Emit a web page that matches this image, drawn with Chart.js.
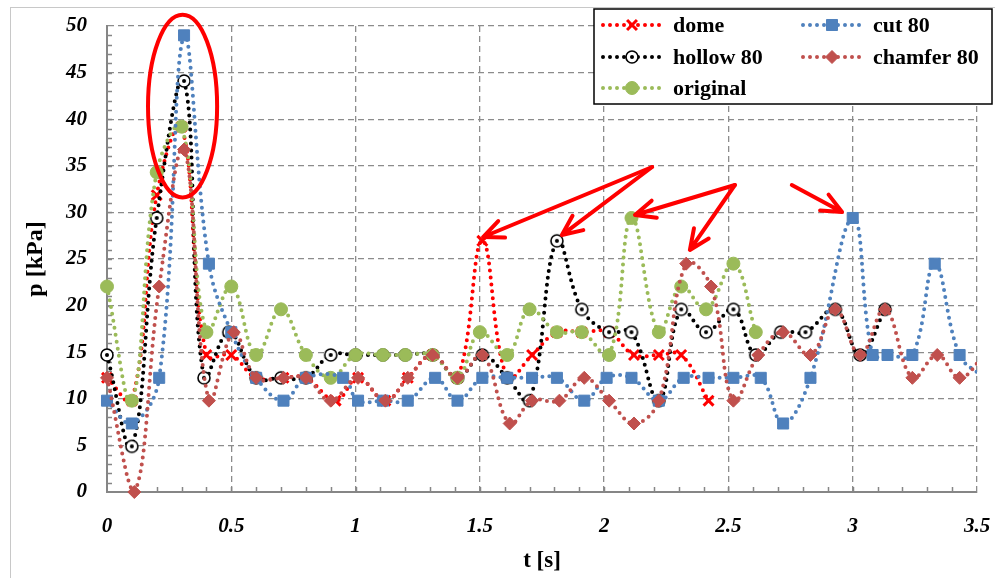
<!DOCTYPE html>
<html>
<head>
<meta charset="utf-8">
<script src="https://cdn.jsdelivr.net/npm/chart.js@4.4.0/dist/chart.umd.min.js"></script>
<style>
  html, body { margin: 0; padding: 0; background: #fff; }
</style>
</head>
<body>
<canvas id="chart" width="995" height="578"></canvas>
<script>
// time [s] and pressure [kPa] per nose shape
const domeT = [0, 0.1, 0.2, 0.3, 0.4, 0.5, 0.6, 0.71, 0.8, 0.92, 1.01, 1.12, 1.21, 1.31, 1.41, 1.51, 1.61, 1.71, 1.81, 1.91, 2.02, 2.12, 2.22, 2.31, 2.42];
const domeP = [12.25, 9.8, 31.85, 39.2, 14.7, 14.7, 12.25, 12.25, 12.25, 9.8, 12.25, 9.8, 12.25, 14.7, 12.25, 26.95, 12.25, 14.7, 17.15, 17.15, 17.15, 14.7, 14.7, 14.7, 9.8];

const hollowT = [0, 0.1, 0.2, 0.31, 0.39, 0.49, 0.6, 0.7, 0.8, 0.9, 1.0, 1.11, 1.2, 1.31, 1.41, 1.51, 1.61, 1.7, 1.81, 1.91, 2.02, 2.11, 2.22, 2.31, 2.41, 2.52, 2.61, 2.71, 2.81, 2.93, 3.03, 3.13];
const hollowP = [14.7, 4.9, 29.4, 44.1, 12.25, 17.15, 12.25, 12.25, 12.25, 14.7, 14.7, 14.7, 14.7, 14.7, 12.25, 14.7, 12.25, 9.8, 26.95, 19.6, 17.15, 17.15, 9.8, 19.6, 17.15, 19.6, 14.7, 17.15, 17.15, 19.6, 14.7, 19.6];

const originalT = [0, 0.1, 0.2, 0.3, 0.4, 0.5, 0.6, 0.7, 0.8, 0.9, 1.0, 1.11, 1.2, 1.31, 1.41, 1.5, 1.61, 1.7, 1.81, 1.91, 2.02, 2.11, 2.22, 2.31, 2.41, 2.52, 2.61];
const originalP = [22.05, 9.8, 34.3, 39.2, 17.15, 22.05, 14.7, 19.6, 14.7, 12.25, 14.7, 14.7, 14.7, 14.7, 12.25, 17.15, 14.7, 19.6, 17.15, 17.15, 14.7, 29.4, 17.15, 22.05, 19.6, 24.5, 17.15];

const cutT = [0, 0.1, 0.21, 0.31, 0.41, 0.5, 0.6, 0.71, 0.8, 0.95, 1.01, 1.11, 1.21, 1.32, 1.41, 1.51, 1.61, 1.71, 1.81, 1.92, 2.01, 2.11, 2.22, 2.32, 2.42, 2.52, 2.63, 2.72, 2.83, 3.0, 3.08, 3.14, 3.24, 3.33, 3.43, 3.53];
const cutP = [9.8, 7.35, 12.25, 49, 24.5, 17.15, 12.25, 9.8, 12.25, 12.25, 9.8, 9.8, 9.8, 12.25, 9.8, 12.25, 12.25, 12.25, 12.25, 9.8, 12.25, 12.25, 9.8, 12.25, 12.25, 12.25, 12.25, 7.35, 12.25, 29.4, 14.7, 14.7, 14.7, 24.5, 14.7, 12.25];

const chamferT = [0, 0.11, 0.21, 0.31, 0.41, 0.51, 0.6, 0.71, 0.8, 0.9, 1.01, 1.12, 1.21, 1.31, 1.41, 1.51, 1.62, 1.71, 1.82, 1.92, 2.02, 2.12, 2.22, 2.33, 2.43, 2.52, 2.62, 2.72, 2.83, 2.93, 3.03, 3.13, 3.24, 3.34, 3.43, 3.53];
const chamferP = [12.25, 0, 22.05, 36.75, 9.8, 17.15, 12.25, 12.25, 12.25, 9.8, 12.25, 9.8, 12.25, 14.7, 12.25, 14.7, 7.35, 9.8, 9.8, 12.25, 9.8, 7.35, 9.8, 24.5, 22.05, 9.8, 14.7, 17.15, 14.7, 19.6, 14.7, 19.6, 12.25, 14.7, 12.25, 14.7];

// hand-drawn red marks, in data units [t, p]
const ringCenter = [0.304, 41.4];
const ringRadius = [0.139, 9.8];
const arrows = [
  [[2.193, 34.87], [1.513, 27.36]],
  [[2.193, 34.87], [1.830, 27.57]],
  [[2.526, 32.94], [2.124, 29.72]],
  [[2.526, 32.94], [2.345, 25.97]],
  [[2.755, 32.94], [2.957, 30.04]]
];

const SERIF = "'Liberation Serif', 'DejaVu Serif', serif";

// open circle with a dot, used for "hollow 80"
const ring = document.createElement('canvas');
ring.width = ring.height = 16;
const rc = ring.getContext('2d');
rc.beginPath(); rc.arc(8, 8, 6, 0, 2 * Math.PI);
rc.fillStyle = '#fff'; rc.fill();
rc.lineWidth = 1.6; rc.strokeStyle = '#000'; rc.stroke();
rc.beginPath(); rc.arc(8, 8, 2, 0, 2 * Math.PI);
rc.fillStyle = '#000'; rc.fill();

function series(label, t, p, color, style, radius, order, extra) {
  return Object.assign({
    label: label,
    data: t.map((v, i) => ({ x: v, y: p[i] })),
    order: order,
    borderColor: color,
    backgroundColor: color,
    borderWidth: 4,
    borderDash: [0, 7],
    borderCapStyle: 'round',
    tension: 0.4,
    pointStyle: style,
    pointRadius: radius,
    pointBackgroundColor: color,
    pointBorderColor: color,
    pointBorderWidth: 1,
    clip: { left: 10, top: 30, right: 0, bottom: 12 }
  }, extra || {});
}

const datasets = [
  series('dome', domeT, domeP, '#FF0000', 'crossRot', 7, 5, { pointBorderWidth: 3 }),
  series('hollow 80', hollowT, hollowP, '#000000', ring, 7, 4),
  series('original', originalT, originalP, '#9BBB59', 'circle', 6.5, 3),
  series('cut 80', cutT, cutP, '#4F81BD', 'rect', 7.8, 2),
  series('chamfer 80', chamferT, chamferP, '#C0504D', 'rectRot', 6.5, 1)
];

const frame = {
  id: 'frame',
  beforeDraw(chart) {
    const ctx = chart.ctx;
    ctx.save();
    ctx.fillStyle = '#fff';
    ctx.fillRect(0, 0, chart.width, chart.height);
    ctx.strokeStyle = '#c8c8c8';
    ctx.lineWidth = 1;
    ctx.strokeRect(10.5, 7.5, chart.width, chart.height);
    ctx.restore();
  }
};

const minorTicks = {
  id: 'minorTicks',
  beforeDatasetsDraw(chart) {
    const { ctx, chartArea: a } = chart;
    const x = chart.scales.x, y = chart.scales.y;
    ctx.save();
    ctx.strokeStyle = '#868686';
    ctx.lineWidth = 1.5;
    ctx.beginPath();
    for (let v = 1; v < 50; v++) {
      const py = Math.round(y.getPixelForValue(v)) + 0.5;
      ctx.moveTo(a.left, py); ctx.lineTo(a.left + 5, py);
    }
    for (let i = 1; i < 35; i++) {
      const px = Math.round(x.getPixelForValue(i / 10)) + 0.5;
      ctx.moveTo(px, a.bottom); ctx.lineTo(px, a.bottom - 5);
    }
    ctx.stroke();
    ctx.restore();
  }
};

const redMarks = {
  id: 'redMarks',
  afterDatasetsDraw(chart) {
    const ctx = chart.ctx;
    const x = chart.scales.x, y = chart.scales.y;
    const px = v => x.getPixelForValue(v), py = v => y.getPixelForValue(v);
    ctx.save();
    ctx.strokeStyle = '#FF0000';
    ctx.lineWidth = 4;
    ctx.lineCap = 'round';
    ctx.lineJoin = 'round';
    const cx = px(ringCenter[0]), cy = py(ringCenter[1]);
    const rx = px(ringCenter[0] + ringRadius[0]) - cx;
    const ry = cy - py(ringCenter[1] + ringRadius[1]);
    ctx.beginPath();
    ctx.ellipse(cx, cy, rx, ry, 0, 0, 2 * Math.PI);
    ctx.stroke();
    arrows.forEach(([from, to]) => {
      const x1 = px(from[0]), y1 = py(from[1]), x2 = px(to[0]), y2 = py(to[1]);
      const ang = Math.atan2(y2 - y1, x2 - x1);
      const len = 22, spread = 0.42;
      ctx.beginPath();
      ctx.moveTo(x1, y1); ctx.lineTo(x2, y2);
      ctx.moveTo(x2 - len * Math.cos(ang - spread), y2 - len * Math.sin(ang - spread));
      ctx.lineTo(x2, y2);
      ctx.lineTo(x2 - len * Math.cos(ang + spread), y2 - len * Math.sin(ang + spread));
      ctx.stroke();
    });
    ctx.restore();
  }
};

// two-column legend box in the top right, like the original sheet
const boxLegend = {
  id: 'boxLegend',
  afterDraw(chart) {
    const ctx = chart.ctx;
    const slots = [[603, 25], [603, 57], [603, 88], [803, 25], [803, 57]];
    ctx.save();
    ctx.fillStyle = '#fff';
    ctx.fillRect(594, 9, 398, 95);
    ctx.strokeStyle = '#000';
    ctx.lineWidth = 1.5;
    ctx.strokeRect(594, 9, 398, 95);
    chart.data.datasets.forEach((ds, i) => {
      const [lx, ly] = slots[i];
      ctx.save();
      ctx.strokeStyle = ds.borderColor;
      ctx.lineWidth = 4;
      ctx.lineCap = 'round';
      ctx.setLineDash([0, 7]);
      ctx.beginPath();
      ctx.moveTo(lx, ly); ctx.lineTo(lx + 58, ly);
      ctx.stroke();
      ctx.restore();
      ctx.fillStyle = ds.pointBackgroundColor;
      ctx.strokeStyle = ds.pointBorderColor;
      ctx.lineWidth = ds.pointBorderWidth;
      Chart.helpers.drawPoint(ctx, {
        pointStyle: ds.pointStyle, radius: ds.pointRadius, borderWidth: ds.pointBorderWidth, rotation: 0
      }, lx + 29, ly);
      ctx.fillStyle = '#000';
      ctx.font = 'bold 22px ' + SERIF;
      ctx.textBaseline = 'middle';
      ctx.fillText(ds.label, lx + 70, ly + 1);
    });
    ctx.restore();
  }
};

const tickFont = { family: SERIF, size: 21, weight: 'bold', style: 'italic' };
// invisible tick marks push the labels out without widening the layout padding
const hiddenTicks = { color: '#8c8c8c', lineWidth: 1.3, drawTicks: true, tickColor: 'rgba(0,0,0,0)' };

new Chart(document.getElementById('chart'), {
  type: 'line',
  data: { datasets: datasets },
  plugins: [frame, minorTicks, redMarks, boxLegend],
  options: {
    responsive: false,
    animation: false,
    events: [],
    layout: { padding: { left: 0, right: 18, top: 26, bottom: 0 } },
    plugins: {
      legend: { display: false },
      tooltip: { enabled: false }
    },
    scales: {
      x: {
        type: 'linear',
        min: 0,
        max: 3.5,
        ticks: { stepSize: 0.5, padding: 4, color: '#000', font: tickFont, callback: v => String(v) },
        grid: Object.assign({ tickLength: 18 }, hiddenTicks),
        border: { color: '#868686', width: 2, dash: [6, 4] },
        title: {
          display: true, text: 't [s]', color: '#000', padding: { top: 0, bottom: 3 },
          font: { family: SERIF, size: 23, weight: 'bold' }
        },
        afterFit: s => { s.height = 86; }
      },
      y: {
        type: 'linear',
        min: 0,
        max: 50,
        ticks: { stepSize: 5, padding: 4, color: '#000', font: tickFont },
        grid: Object.assign({ tickLength: 16 }, hiddenTicks),
        border: { color: '#868686', width: 2, dash: [6, 4] },
        title: {
          display: true, text: 'p [kPa]', color: '#000', padding: { top: 21, bottom: 0 },
          font: { family: SERIF, size: 24, weight: 'bold' }
        },
        afterFit: s => { s.width = 107; }
      }
    }
  }
});
</script>
</body>
</html>
